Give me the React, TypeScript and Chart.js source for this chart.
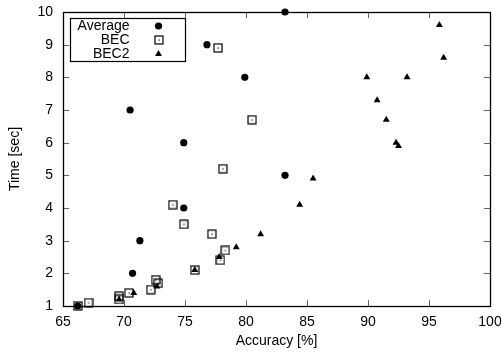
import React, { useEffect, useRef } from 'react';
import { Chart, registerables } from 'chart.js';
Chart.register(...registerables);

const avgX = [66.2, 70.7, 71.3, 74.9, 83.2, 74.9, 70.5, 79.9, 76.8, 83.2];
const avgY = [1, 2, 3, 4, 5, 6, 7, 8, 9, 10];

const becX = [66.2, 67.1, 69.6, 69.6, 70.4, 72.2, 72.8, 72.6, 75.8, 77.9, 78.3, 77.2, 74.9, 74.0, 78.1, 80.5, 77.7];
const becY = [1.0, 1.1, 1.2, 1.3, 1.4, 1.5, 1.7, 1.8, 2.1, 2.4, 2.7, 3.2, 3.5, 4.1, 5.2, 6.7, 8.9];

const bec2X = [66.2, 69.6, 70.8, 72.7, 75.8, 77.8, 79.2, 81.2, 84.4, 85.5, 92.5, 92.3, 91.5, 90.75, 89.9, 93.2, 96.2, 95.85];
const bec2Y = [1.0, 1.2, 1.4, 1.6, 2.1, 2.5, 2.8, 3.2, 4.1, 4.9, 5.9, 6.0, 6.7, 7.3, 8.0, 8.0, 8.6, 9.6];

const seriesNames = ['Average', 'BEC', 'BEC2'];
const xTicks = [65, 70, 75, 80, 85, 90, 95, 100];
const yTicks = [1, 2, 3, 4, 5, 6, 7, 8, 9, 10];
const xTitle = 'Accuracy [%]';
const yTitle = 'Time [sec]';

const FONT = '"Liberation Sans", Arial, Helvetica, sans-serif';

function toPoints(xs: number[], ys: number[]) {
  return xs.map((x, i) => ({ x, y: ys[i] }));
}

function makeSquareImage(): HTMLCanvasElement {
  const c = document.createElement('canvas');
  c.width = 10;
  c.height = 10;
  const g = c.getContext('2d')!;
  g.strokeStyle = '#000';
  g.lineWidth = 1.2;
  g.strokeRect(1, 1, 8, 8);
  g.fillStyle = '#000';
  g.fillRect(4.5, 4.5, 1.2, 1.2);
  return c;
}

function drawCircle(ctx: CanvasRenderingContext2D, x: number, y: number) {
  ctx.beginPath();
  ctx.arc(x, y, 3.6, 0, Math.PI * 2);
  ctx.fillStyle = '#000';
  ctx.fill();
}

function drawTriangle(ctx: CanvasRenderingContext2D, x: number, y: number) {
  const r = 4;
  ctx.beginPath();
  ctx.moveTo(x, y - r);
  ctx.lineTo(x + r * Math.sin((2 * Math.PI) / 3), y - r * Math.cos((2 * Math.PI) / 3));
  ctx.lineTo(x - r * Math.sin((2 * Math.PI) / 3), y - r * Math.cos((2 * Math.PI) / 3));
  ctx.closePath();
  ctx.fillStyle = '#000';
  ctx.fill();
}

export default function App() {
  const ref = useRef<HTMLCanvasElement | null>(null);

  useEffect(() => {
    if (!ref.current) return;
    const squareImg = makeSquareImage();

    const framePlugin = {
      id: 'frame',
      afterDraw(chart: any) {
        const ctx: CanvasRenderingContext2D = chart.ctx;
        const { left, right, top, bottom } = chart.chartArea;
        const xs = chart.scales.x;
        const ys = chart.scales.y;
        ctx.save();
        ctx.strokeStyle = '#666';
        ctx.lineWidth = 1;
        const tl = 6;
        xTicks.forEach((v) => {
          const px = Math.round(xs.getPixelForValue(v)) + 0.5;
          if (Math.abs(px - left) < 2 || Math.abs(px - right) < 2) return;
          ctx.beginPath();
          ctx.moveTo(px, bottom);
          ctx.lineTo(px, bottom - tl);
          ctx.moveTo(px, top);
          ctx.lineTo(px, top + tl);
          ctx.stroke();
        });
        yTicks.forEach((v) => {
          const py = Math.round(ys.getPixelForValue(v)) + 0.5;
          if (Math.abs(py - top) < 2 || Math.abs(py - bottom) < 2) return;
          ctx.beginPath();
          ctx.moveTo(left, py);
          ctx.lineTo(left + tl, py);
          ctx.moveTo(right, py);
          ctx.lineTo(right - tl, py);
          ctx.stroke();
        });
        ctx.strokeStyle = '#000';
        ctx.lineWidth = 1.3;
        ctx.strokeRect(Math.round(left) + 0.5, Math.round(top) + 0.5, Math.round(right - left), Math.round(bottom - top));

        const lx = Math.round(left) + 7.5;
        const ly = Math.round(top) + 6.5;
        const lw = 115;
        const lh = 43;
        ctx.fillStyle = '#fff';
        ctx.fillRect(lx, ly, lw, lh);
        ctx.strokeStyle = '#000';
        ctx.lineWidth = 1.2;
        ctx.strokeRect(lx, ly, lw, lh);
        ctx.font = '14px ' + FONT;
        ctx.textAlign = 'right';
        ctx.textBaseline = 'middle';
        const rows = [ly + 7.5, ly + 21.5, ly + 35.5];
        seriesNames.forEach((n, i) => {
          ctx.fillStyle = '#000';
          ctx.fillText(n, lx + 59, rows[i]);
        });
        const mx = lx + 88;
        drawCircle(ctx, mx, rows[0]);
        ctx.drawImage(squareImg, Math.round(mx) - 5, Math.round(rows[1]) - 5);
        drawTriangle(ctx, mx, rows[2]);
        ctx.restore();
      },
    };

    const chart = new Chart(ref.current, {
      type: 'scatter',
      data: {
        datasets: [
          {
            label: seriesNames[0],
            data: toPoints(avgX, avgY),
            pointStyle: 'circle',
            pointRadius: 3.6,
            backgroundColor: '#000',
            borderColor: '#000',
            borderWidth: 0,
            order: 3,
          },
          {
            label: seriesNames[1],
            data: toPoints(becX, becY),
            pointStyle: squareImg as any,
            pointRadius: 5,
            backgroundColor: '#000',
            borderColor: '#000',
            order: 2,
          },
          {
            label: seriesNames[2],
            data: toPoints(bec2X, bec2Y),
            pointStyle: 'triangle',
            pointRadius: 4,
            backgroundColor: '#000',
            borderColor: '#000',
            borderWidth: 0,
            order: 1,
          },
        ],
      },
      options: {
        responsive: false,
        animation: false,
        clip: false as any,
        layout: { padding: { top: 12, right: 12, left: 0, bottom: 0 } },
        plugins: {
          legend: { display: false },
          tooltip: { enabled: false },
        },
        scales: {
          x: {
            type: 'linear',
            min: 65,
            max: 100,
            afterFit: (s: any) => {
              s.height = 47;
              s.paddingLeft = 0;
              s.paddingRight = 0;
            },
            afterBuildTicks: (s: any) => {
              s.ticks = xTicks.map((v) => ({ value: v }));
            },
            grid: { display: false, drawTicks: false },
            border: { display: false },
            ticks: {
              color: '#000',
              font: { size: 14, family: FONT },
              padding: 8,
              maxRotation: 0,
              autoSkip: false,
            },
            title: {
              display: true,
              text: xTitle,
              color: '#000',
              font: { size: 14, family: FONT },
              padding: { top: 0, bottom: 3 },
            },
          },
          y: {
            type: 'linear',
            min: 1,
            max: 10,
            afterFit: (s: any) => {
              s.width = 63;
              s.paddingTop = 0;
              s.paddingBottom = 0;
            },
            afterBuildTicks: (s: any) => {
              s.ticks = yTicks.map((v) => ({ value: v }));
            },
            grid: { display: false, drawTicks: false },
            border: { display: false },
            ticks: {
              color: '#000',
              font: { size: 14, family: FONT },
              padding: 10,
              autoSkip: false,
            },
            title: {
              display: true,
              text: yTitle,
              color: '#000',
              font: { size: 14, family: FONT },
              padding: { top: 7, bottom: 0 },
            },
          },
        },
      },
      plugins: [framePlugin],
    });
    return () => chart.destroy();
  }, []);

  return (
    <div style={{ position: 'fixed', left: 0, top: 0, width: 502, height: 353, background: '#fff' }}>
      <canvas ref={ref} width={502} height={353} />
    </div>
  );
}
